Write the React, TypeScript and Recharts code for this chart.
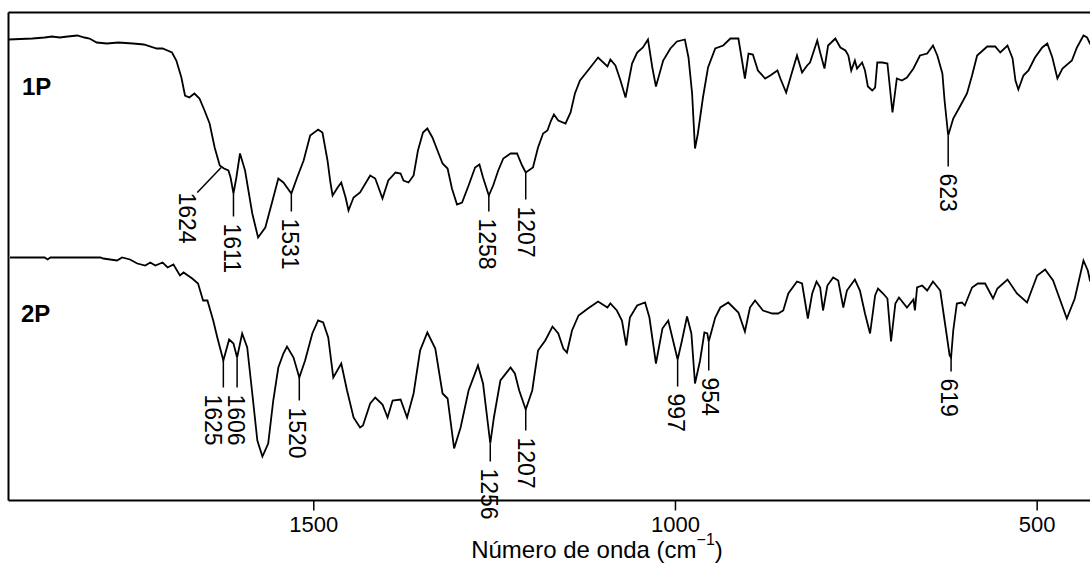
import React from 'react';
import { LineChart, Line, XAxis, YAxis, ReferenceLine, Customized } from 'recharts';

// ---- data: spectrum 1P ----
const wave1 = [1922,1889,1872,1862,1851,1840,1827,1817,1810,1800,1786,1770,1750,1735,1717,1709,1696,1690,1683,1678,1672,1665,1658,1651,1644,1637,1630,1624,1618,1615,1611,1607,1602,1595,1585,1577,1567,1557,1549,1542,1531,1523,1514,1505,1494,1488,1481,1477,1474,1467,1462,1456,1452,1445,1436,1422,1415,1405,1397,1387,1380,1376,1369,1362,1356,1349,1343,1336,1329,1322,1315,1309,1302,1295,1286,1277,1271,1266,1258,1252,1245,1238,1228,1219,1212,1207,1197,1190,1183,1177,1172,1168,1162,1152,1145,1139,1132,1121,1107,1094,1090,1083,1076,1069,1060,1053,1045,1038,1032,1027,1017,1007,998,987,982,977,973,969,962,955,945,934,924,913,908,904,899,893,886,876,869,859,855,847,839,832,825,818,814,804,800,794,789,779,772,765,761,757,752,749,742,738,734,728,724,721,714,707,700,694,687,680,671,662,652,644,638,631,628,623,616,606,597,590,583,569,558,551,541,534,530,526,519,512,503,493,486,479,472,465,452,445,436,431,427,418,408,400];
const trans1 = [461,462,463,464,463,464,465,463,462,458,457,458,457,456,452,452,448,440,423,405,403,407,402,390,377,353,335,332,330,323,307,323,347,330,287,263,273,300,322,318,307,323,340,365,371,368,340,318,305,313,318,303,290,303,308,325,322,302,320,328,327,320,318,325,350,368,372,363,350,337,332,312,296,298,315,333,336,323,305,315,330,342,347,347,335,328,333,353,367,370,380,386,380,377,388,407,420,430,443,434,441,435,420,403,437,448,453,461,433,414,440,452,459,461,443,407,352,367,403,433,452,455,462,462,440,422,447,446,430,422,425,430,422,408,428,445,428,435,438,460,448,432,455,462,453,450,445,430,440,432,438,430,414,410,413,438,438,437,388,422,420,423,432,445,447,455,445,427,400,365,382,395,407,425,445,454,454,448,455,442,420,411,425,430,443,453,457,443,422,432,440,453,465,463,457,448,452,454];

// ---- data: spectrum 2P ----
const wave2 = [1920,1872,1868,1864,1795,1791,1772,1765,1754,1744,1733,1726,1719,1709,1702,1694,1685,1680,1668,1660,1653,1647,1639,1633,1625,1617,1611,1606,1599,1592,1585,1578,1571,1563,1556,1549,1542,1537,1528,1520,1512,1502,1494,1487,1480,1473,1462,1454,1445,1436,1432,1422,1415,1405,1398,1391,1380,1371,1362,1353,1343,1332,1322,1315,1306,1297,1286,1273,1266,1256,1251,1242,1228,1222,1216,1207,1198,1190,1180,1170,1162,1155,1150,1143,1134,1121,1107,1094,1090,1081,1074,1068,1063,1053,1042,1036,1027,1018,1010,997,991,984,978,973,966,960,956,954,945,938,927,913,904,897,890,879,866,858,851,844,832,825,817,811,805,800,796,790,782,775,768,763,752,745,738,731,724,720,713,707,702,696,691,680,671,669,666,659,652,644,634,628,621,619,616,611,604,600,590,582,572,561,555,541,528,514,500,489,478,468,459,448,436,430,427,415,400];
const trans2 = [243,243,241,243,243,242,240,243,241,237,235,238,235,238,233,236,225,228,222,217,200,200,180,162,140,161,157,143,167,153,107,60,44,57,100,133,147,154,143,123,140,167,180,178,163,123,137,110,83,73,75,97,103,96,83,100,101,83,107,150,168,152,107,102,52,73,110,135,117,57,83,120,133,127,110,91,110,150,160,174,167,152,148,170,185,192,199,193,197,190,180,155,183,195,198,183,137,172,180,141,160,184,167,117,140,168,167,159,183,193,198,188,169,193,200,190,187,187,190,207,219,217,182,207,219,213,190,215,223,220,193,210,221,210,187,167,205,212,207,202,159,197,203,193,201,190,213,215,210,219,210,180,145,143,170,197,198,195,213,217,217,202,212,221,207,198,225,231,220,200,182,202,240,230,220,210,215];

// ---- axis / labels ----
const xDomain = [400, 1922];
const yDomain = [0, 488];
const xTicks = [1500, 1000, 500];
const seriesNames = ['1P', '2P'];
const peaks1 = ['1611', '1531', '1258', '1207', '623'];
const peaks2 = ['1625', '1606', '1520', '1256', '1207', '997', '954', '619'];
const shoulder1 = '1624';

// leader length (px) and label x shift per annotation (styling)
const lead1 = [23, 18, 16, 27, 31];
const shift1 = [-1, -1, -2, 0, 0];
const lead2 = [27, 30, 23, 18, 21, 27, 29, 14];
const shift2 = [-10, -1.5, -2, -1, 0.5, -1.5, 1, -2];

const data1 = wave1.map((w, i) => ({ w, v: trans1[i] }));
const data2 = wave2.map((w, i) => ({ w, v: trans2[i] }));

const FONT = 'Arial, "Liberation Sans", Helvetica, sans-serif';

const valueAt = (waves: number[], vals: number[], w: number) => vals[waves.indexOf(w)];

const makeLabel = (text: string, dx: number, gap: number) => (props: any) => {
  const vb = props.viewBox || {};
  const x = (vb.x ?? 0) + dx;
  const y = (vb.y ?? 0) + (vb.height ?? 0) + gap;
  return (
    <text
      x={x}
      y={y}
      transform={`rotate(90 ${x} ${y})`}
      textAnchor="start"
      dominantBaseline="central"
      fontFamily={FONT}
      fontSize={23}
      fill="#000"
    >
      {text}
    </text>
  );
};

const AxisTitle = (props: any) => {
  const vb = props.viewBox || { x: 0, y: 0, width: 0 };
  const cx = vb.x + vb.width * 0.5345;
  const y = vb.y + 57.5;
  return (
    <text x={cx} y={y} textAnchor="middle" fontFamily={FONT} fontSize={24} fill="#000">
      Número de onda (cm
      <tspan dy={-13} fontSize={16}>−1</tspan>
      <tspan dy={13}>)</tspan>
    </text>
  );
};

const PanelLabels = () => (
  <g>
    <text x={22} y={95} fontFamily={FONT} fontWeight="bold" fontSize={24} fill="#000">{seriesNames[0]}</text>
    <text x={21} y={322} fontFamily={FONT} fontWeight="bold" fontSize={24} fill="#000">{seriesNames[1]}</text>
  </g>
);

export default function App() {
  const sv1 = valueAt(wave1, trans1, 1624);
  return (
    <div style={{ position: 'absolute', left: 0, top: 0, width: 1090, height: 563, overflow: 'hidden', background: '#fff' }}>
      <LineChart
        width={1120}
        height={563}
        margin={{ top: 12.5, left: 8.5, right: 10.5, bottom: 0 }}
      >
        <XAxis
          dataKey="w"
          type="number"
          domain={xDomain}
          reversed
          allowDataOverflow
          ticks={xTicks}
          interval={0}
          height={62.5}
          tickSize={10}
          tickMargin={6}
          axisLine={{ stroke: '#000', strokeWidth: 2 }}
          tickLine={{ stroke: '#000', strokeWidth: 1.5 }}
          tick={{ fill: '#000', fontSize: 22, fontFamily: FONT }}
          label={AxisTitle}
        />
        <YAxis type="number" domain={yDomain} hide allowDataOverflow />
        {/* frame: left and top borders */}
        <ReferenceLine x={xDomain[1]} stroke="#000" strokeWidth={2} ifOverflow="visible" />
        <ReferenceLine y={yDomain[1]} stroke="#000" strokeWidth={2} ifOverflow="visible" />

        <Line data={data1} dataKey="v" type="linear" stroke="#000" strokeWidth={1.8} dot={false} activeDot={false} isAnimationActive={false} />
        <Line data={data2} dataKey="v" type="linear" stroke="#000" strokeWidth={1.8} dot={false} activeDot={false} isAnimationActive={false} />

        <ReferenceLine
          segment={[{ x: 1628, y: sv1 + 1 }, { x: 1661, y: sv1 - 24 }]}
          stroke="#000"
          strokeWidth={1.5}
          ifOverflow="visible"
          label={makeLabel(shoulder1, -10, 0)}
        />
        {peaks1.map((p, i) => {
          const w = Number(p);
          const v = valueAt(wave1, trans1, w);
          return (
            <ReferenceLine
              key={'a' + i}
              segment={[{ x: w, y: v }, { x: w, y: v - lead1[i] }]}
              stroke="#000"
              strokeWidth={1.5}
              ifOverflow="visible"
              label={makeLabel(p, shift1[i], 7)}
            />
          );
        })}
        {peaks2.map((p, i) => {
          const w = Number(p);
          const v = valueAt(wave2, trans2, w);
          return (
            <ReferenceLine
              key={'b' + i}
              segment={[{ x: w, y: v }, { x: w, y: v - lead2[i] }]}
              stroke="#000"
              strokeWidth={1.5}
              ifOverflow="visible"
              label={makeLabel(p, shift2[i], 7)}
            />
          );
        })}
        <Customized component={PanelLabels} />
      </LineChart>
    </div>
  );
}
